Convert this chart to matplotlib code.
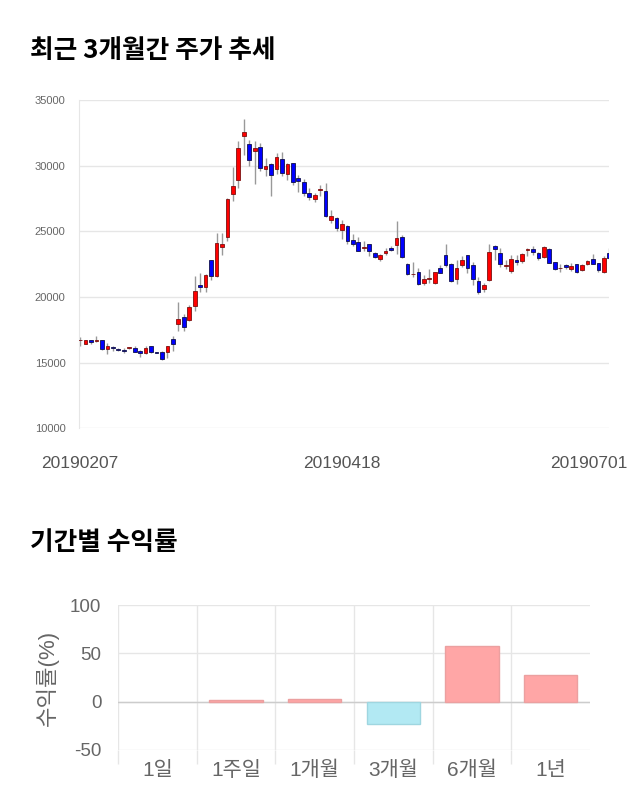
import numpy as np
import matplotlib.pyplot as plt
from matplotlib.transforms import ScaledTranslation

plt.rcParams['font.family'] = ['Liberation Sans', 'Noto Sans CJK KR', 'DejaVu Sans']
plt.rcParams['axes.unicode_minus'] = False

# daily candles, 2019-02-07 .. 2019-07-01
opens = [16700, 16450, 16700, 16650, 16726, 16016, 16180, 16040, 15950, 16120,
         16110, 15860, 15710, 16240, 15780, 15840, 15840, 16800, 17970, 18480,
         18220, 19340, 20940, 20760, 22820, 21630, 23790, 24540, 27870, 28910,
         32280, 31620, 31090, 31420, 29770, 30130, 29720, 30480, 29390, 30180,
         29040, 28760, 27920, 27460, 28150, 28070, 25890, 25990, 25130, 25430,
         24310, 24160, 23760, 24010, 23330, 22920, 23380, 23710, 23990, 24590,
         22540, 21730, 21880, 21070, 21350, 21100, 22230, 23200, 22510, 21400,
         22410, 23200, 22430, 21190, 20580, 21320, 23860, 23380, 22380, 21960,
         22790, 22710, 23560, 23660, 23380, 23020, 23630, 22660, 22180, 22430,
         22150, 22480, 22080, 22510, 22920, 22590, 21910, 23330]
highs = [16980, 16750, 16750, 17050, 16750, 16470, 16250, 16100, 16080, 16200,
         16250, 15950, 16250, 16250, 15800, 15850, 16300, 17000, 19620, 18700,
         19400, 21630, 21800, 21750, 22820, 24900, 24900, 27500, 29900, 31900,
         33530, 31950, 31880, 31700, 30600, 30200, 31000, 31050, 30200, 30200,
         29300, 29000, 28300, 27900, 28500, 28650, 26600, 26100, 25900, 25500,
         24800, 24600, 24300, 24050, 23400, 23300, 23700, 23900, 25810, 24700,
         22600, 22700, 22200, 21700, 22100, 21900, 22400, 24050, 22600, 22800,
         23100, 23200, 22700, 21500, 21100, 24000, 23950, 23700, 22800, 23200,
         23200, 23350, 23700, 23900, 23450, 23850, 23700, 22700, 22500, 22500,
         22600, 22500, 22500, 22850, 23300, 22600, 23100, 23700]
lows = [16300, 16400, 16450, 16600, 15950, 15660, 15900, 15900, 15750, 16050,
        15800, 15450, 15650, 15700, 15700, 15200, 15350, 15900, 17400, 17400,
        18150, 18900, 20400, 20400, 21300, 21500, 23200, 24300, 27300, 28300,
        30810, 30000, 28580, 29600, 29200, 27720, 29400, 29200, 28900, 28500,
        28000, 27700, 27400, 27200, 27700, 26100, 25600, 25000, 24400, 24000,
        23900, 23500, 23500, 23100, 22950, 22750, 23200, 23500, 23300, 22950,
        21700, 21500, 20950, 20950, 21100, 21000, 21800, 22300, 21150, 21000,
        22300, 21800, 20900, 20200, 20400, 21200, 22800, 22300, 22100, 21800,
        22400, 22600, 23100, 23200, 22850, 23000, 22550, 22050, 21900, 22150,
        22000, 21800, 22000, 22400, 22500, 21900, 21850, 22900]
closes = [16730, 16700, 16550, 16720, 16016, 16270, 16090, 15940, 15900, 16150,
          15840, 15710, 16140, 15840, 15750, 15300, 16240, 16400, 18350, 17720,
          19210, 20480, 20760, 21680, 21630, 24090, 24060, 27460, 28480, 31320,
          32540, 30400, 31370, 29800, 29970, 29310, 30630, 29420, 30130, 28780,
          28860, 27940, 27640, 27740, 28170, 26140, 26140, 25250, 25530, 24290,
          24010, 23530, 23760, 23530, 23070, 23170, 23530, 23600, 24470, 23070,
          21780, 21730, 21020, 21350, 21420, 21880, 21830, 22410, 21240, 22230,
          22820, 22230, 21350, 20360, 20940, 23400, 23680, 22490, 22380, 22920,
          22690, 23280, 23620, 23430, 22940, 23780, 22620, 22150, 22200, 22250,
          22330, 21880, 22430, 22740, 22540, 22080, 22970, 22970]
date_labels = ['20190207', '20190418', '20190701']
date_idx = [0, 49, 97]

periods = ['1일', '1주일', '1개월', '3개월', '6개월', '1년']
returns = [0.0, 2.1, 2.8, -23.4, 57.2, 27.9]

fig = plt.figure(figsize=(6.4, 8.1), dpi=100)

# ---- candlestick chart ----
ax = fig.add_axes([79.3 / 640, 1 - 428.3 / 810, 530 / 640, 328.3 / 810])
o = np.array(opens)
c = np.array(closes)
x = np.arange(len(o))
up = c >= o
ax.vlines(x, lows, highs, color='#999999', linewidth=1, zorder=2)
bottom = np.minimum(o, c)
height = np.maximum(np.abs(c - o), 40)
ax.bar(x[up], height[up], bottom=bottom[up], width=0.68,
       color='#ff0000', edgecolor='#7a1010', linewidth=0.6, zorder=3)
ax.bar(x[~up], height[~up], bottom=bottom[~up], width=0.68,
       color='#0000ff', edgecolor='#10104a', linewidth=0.6, zorder=3)
ax.set_xlim(-0.15, 97)
ax.set_ylim(10000, 35000)
ax.set_yticks(range(10000, 35001, 5000))
ax.yaxis.grid(True, color='#e6e6e6', linewidth=1)
ax.set_axisbelow(True)
for s in ['top', 'right', 'bottom']:
    ax.spines[s].set_visible(False)
ax.spines['left'].set_color('#e6e6e6')
ax.tick_params(axis='y', length=0, pad=10, labelsize=8, labelcolor='#666666')
ax.set_xticks(date_idx)
ax.set_xticklabels(date_labels)
ax.tick_params(axis='x', length=0, pad=20, labelsize=12.5, labelcolor='#555555')
lab = ax.get_xticklabels()[-1]
lab.set_transform(lab.get_transform() + ScaledTranslation(-0.2, 0, fig.dpi_scale_trans))
lab = ax.get_xticklabels()[1]
lab.set_transform(lab.get_transform() + ScaledTranslation(-0.06, 0, fig.dpi_scale_trans))

# ---- returns bar chart ----
bx = fig.add_axes([118 / 640, 1 - 750 / 810, 472 / 640, 145 / 810])
colors = ['#ffa6a6' if v >= 0 else '#b2e9f3' for v in returns]
edges = ['none' if v == 0 else ('#eba0a0' if v > 0 else '#9fd6e0') for v in returns]
bx.bar(np.arange(len(periods)), returns, width=0.68, color=colors,
       edgecolor=edges, linewidth=1, zorder=3)
bx.axhline(0, color='#cccccc', linewidth=1, zorder=2)
bx.set_xlim(-0.5, len(periods) - 0.5)
bx.set_ylim(-50, 100)
bx.set_yticks([-50, 0, 50, 100])
bx.yaxis.grid(True, color='#e6e6e6', linewidth=1)
bx.set_xticks(np.arange(len(periods)))
bx.set_xticklabels(periods)
bx.set_xticks(np.arange(len(periods)) - 0.5, minor=True)
bx.xaxis.grid(True, which='minor', color='#e6e6e6', linewidth=1)
bx.set_axisbelow(True)
for s in bx.spines.values():
    s.set_visible(False)
bx.tick_params(axis='x', which='major', length=0, pad=8, labelsize=15, labelcolor='#666666')
bx.tick_params(axis='x', which='minor', length=10, color='#e6e6e6', width=1)
bx.tick_params(axis='y', length=0, pad=12, labelsize=13.5, labelcolor='#666666')
bx.set_ylabel('수익률(%)', fontsize=16, color='#666666', labelpad=8)

fig.text(30 / 640, 1 - 50 / 810, '최근 3개월간 주가 추세', fontsize=18.5,
         fontweight='bold', va='center', family=['Noto Sans CJK KR', 'DejaVu Sans'])
fig.text(30 / 640, 1 - 543 / 810, '기간별 수익률', fontsize=18.5,
         fontweight='bold', va='center', family=['Noto Sans CJK KR', 'DejaVu Sans'])

fig.savefig('out.png', dpi=100)
